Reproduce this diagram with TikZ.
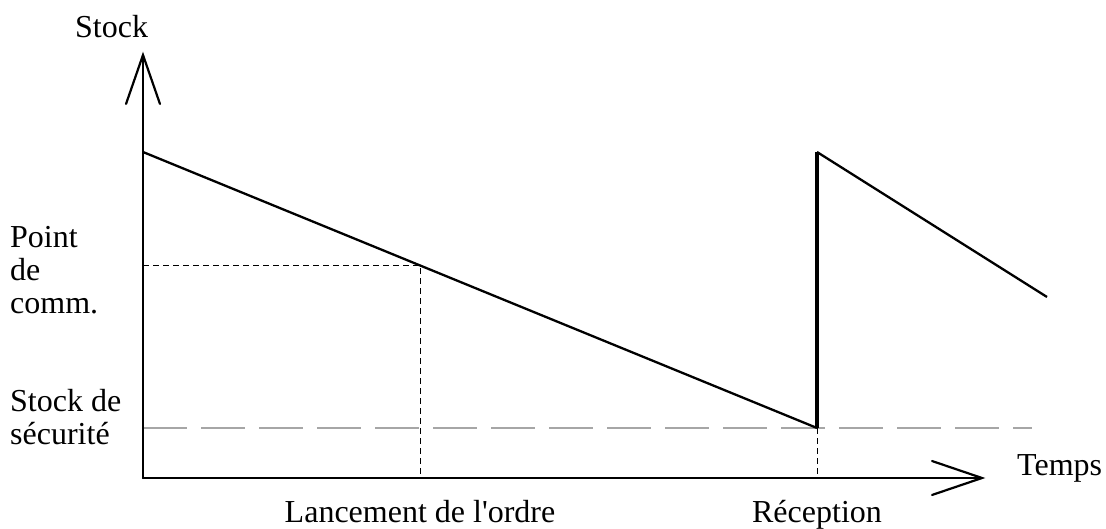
\documentclass[tikz,border=0pt]{standalone}
\usepackage{fontspec}
\setmainfont{Liberation Serif}[Ligatures=TeXOff]
\begin{document}
\begin{tikzpicture}[x=1pt,y=-1pt,
  axis/.style={line width=2.2pt, line cap=round},
  curve/.style={line width=2.3pt, line join=miter},
  jump/.style={line width=3.5pt},
  guide/.style={line width=1pt, dash pattern=on 6pt off 4pt},
  safety/.style={line width=1.4pt, gray!70, dash pattern=on 44pt off 14pt},
  lbl/.style={inner sep=0pt, font=\fontsize{32}{33}\selectfont, align=left}]
\useasboundingbox (0,0) rectangle (1106,529);
% coordinates
\coordinate (O) at (143,478);
\coordinate (ytip) at (143,55);
\coordinate (yl) at (126,104);
\coordinate (yr) at (160,104);
\coordinate (xtip) at (982,478);
\coordinate (xu) at (932,461);
\coordinate (xd) at (932,495);
\coordinate (A) at (143,152);
\coordinate (B) at (817,428);
\coordinate (C) at (817,152);
\coordinate (D) at (1047,297);
\coordinate (P) at (420,265.4);
\coordinate (Py) at (143,265.4);
\coordinate (Px) at (420,478);
\coordinate (S0) at (143,428);
\coordinate (S1) at (1032,428);
\coordinate (Bx) at (817,478);
% safety stock
\draw[safety] (S0) -- (S1);
% guides
\draw[guide] (Py) -- (P) -- (Px);
\draw[guide] (B) -- (Bx);
% axes
\draw[axis] (O) -- (ytip);
\draw[axis] (yl) -- (ytip) -- (yr);
\draw[axis] (O) -- (xtip);
\draw[axis] (xu) -- (xtip) -- (xd);
% stock curve
\draw[curve] (A) -- (B);
\draw[jump] (B) -- (C);
\draw[curve] (C) -- (D);
% labels
\node[lbl, anchor=base west] (stock) at (75,38) {Stock};
\node[lbl, anchor=base west] (temps) at (1017,475) {Temps};
\node[lbl, anchor=north west] (pc) at (10,226) {Point\\de\\comm.};
\node[lbl, anchor=north west] (ss) at (10,389) {Stock de\\sécurité};
\node[lbl, anchor=base] (lanc) at (Px |- 0,522) {Lancement de l'ordre};
\node[lbl, anchor=base] (rec) at (Bx |- 0,522) {Réception};
\end{tikzpicture}
\end{document}
